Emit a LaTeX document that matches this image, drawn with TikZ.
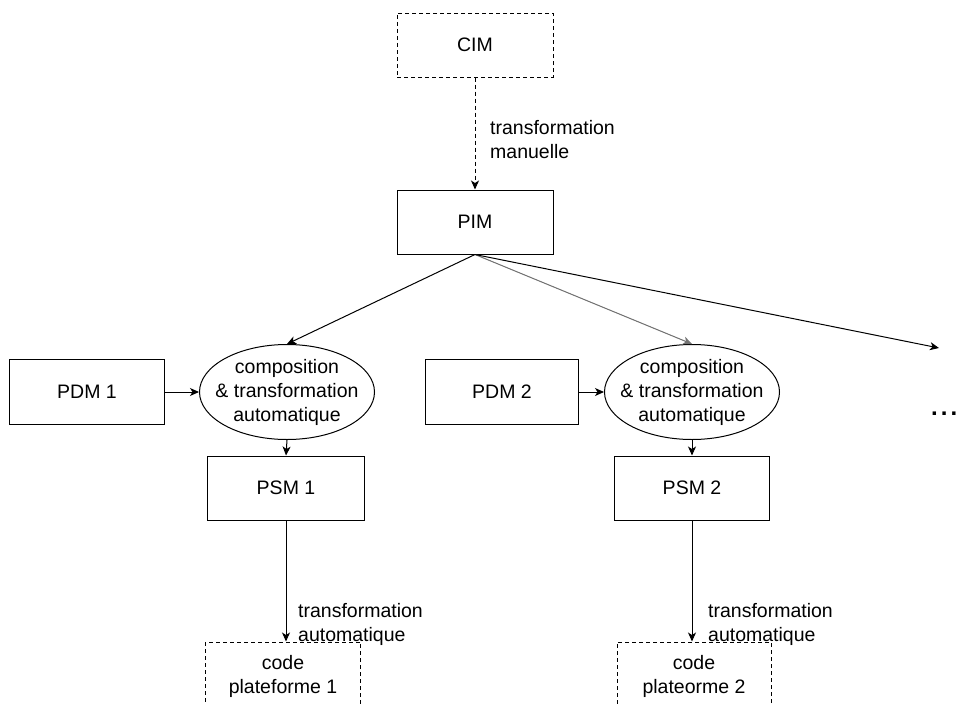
\documentclass[tikz,border=0pt]{standalone}
\usepackage{fontspec}
\setmainfont{Liberation Sans}
\usetikzlibrary{arrows.meta,shapes.geometric}
\begin{document}
\begin{tikzpicture}[x=1pt,y=-1pt,
  every node/.style={font=\fontsize{19.5}{24}\selectfont},
  box/.style={draw,line width=1pt,minimum width=156pt,minimum height=64pt,inner sep=0pt},
  dashline/.style={dash pattern=on 4pt off 3pt},
  dbox/.style={box,dashline},
  ell/.style={draw,line width=1pt,ellipse,minimum width=175pt,minimum height=95pt,inner sep=0pt},
  conn/.style={line width=1pt,-{Stealth[length=9pt,width=8pt,inset=2.5pt]}},
  lbl/.style={anchor=west,align=left,inner sep=0pt}]
\useasboundingbox (0,0) rectangle (959,704);
\clip (0,0) rectangle (959,704);
% top
\node[dbox] (cim) at (475,45) {CIM};
\node[box] (pim) at (475,222) {PIM};
\draw[conn,dashline] (cim.south) -- (pim.north);
\node[lbl] (lman) at (490,140) {transformation\\manuelle};
% left branch
\node[box,minimum width=155pt,minimum height=65pt] (pdm1) at (87,392) {PDM 1};
\node[ell] (e1) at (287,392) {};
\node[align=center,inner sep=0pt] (e1t) at (e1.center) {composition\\\&~transformation\\automatique};
\node[box,minimum width=157pt] (psm1) at (286,488) {PSM 1};
\node[dbox,minimum width=155pt,minimum height=68pt,align=center] (code1) at (283,676) {code\\plateforme 1};
\draw[conn] (pim.south) -- (e1.north);
\draw[conn] (pdm1.east) -- (e1.west);
\draw[conn] (e1.south) -- (psm1.north);
\draw[conn] (psm1.south) -- (psm1.south |- code1.north);
\node[lbl] (la1) at (298,624) {transformation\\automatique};
% right branch
\node[box,minimum width=153pt,minimum height=65pt] (pdm2) at (502,392) {PDM 2};
\node[ell] (e2) at (692,392) {};
\node[align=center,inner sep=0pt] (e2t) at (e2.center) {composition\\\&~transformation\\automatique};
\node[box,minimum width=155pt] (psm2) at (692,488) {PSM 2};
\node[dbox,minimum width=154pt,minimum height=68pt,align=center] (code2) at (694,676) {code\\plateorme 2};
\draw[conn,draw=black!55,fill=black] (pim.south) -- (e2.north);
\draw[conn] (pdm2.east) -- (e2.west);
\draw[conn] (e2.south) -- (psm2.north);
\draw[conn] (psm2.south) -- (psm2.south |- code2.north);
\node[lbl] (la2) at (708,624) {transformation\\automatique};
% further
\coordinate (more) at (939,348);
\draw[conn] (pim.south) -- (more);
\node[anchor=west,inner sep=0pt,font=\fontsize{24}{24}\selectfont\bfseries] (dots) at (931,414) {.\kern3pt.\kern3pt.};
\end{tikzpicture}
\end{document}
